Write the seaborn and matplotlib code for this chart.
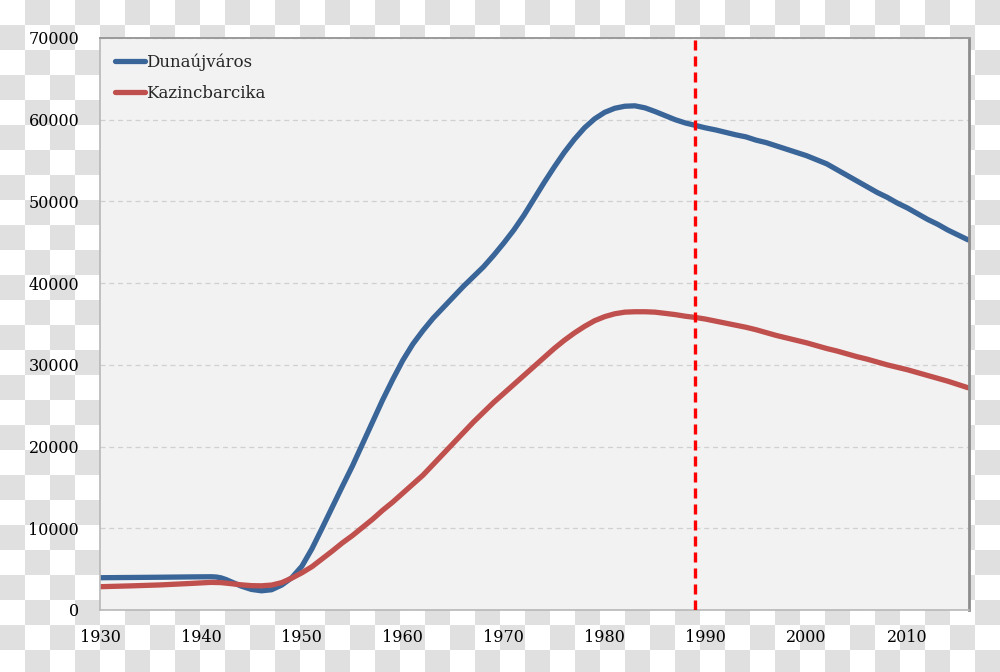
import numpy as np
import pandas as pd
import matplotlib
matplotlib.use("Agg")
import matplotlib.pyplot as plt
import seaborn as sns

# ---- data ----
years_duna = [1930, 1933, 1936, 1939, 1941, 1941.5, 1942, 1942.5, 1943, 1944, 1945, 1946, 1947, 1948, 1949,
              1950, 1951, 1952, 1953, 1954, 1955, 1956, 1957, 1958, 1959, 1960, 1961, 1962,
              1963, 1964, 1965, 1966, 1967, 1968, 1969, 1970, 1971, 1972, 1973, 1974, 1975,
              1976, 1977, 1978, 1979, 1980, 1981, 1982, 1983, 1984, 1985, 1986, 1987, 1988,
              1989, 1990, 1991, 1992, 1993, 1994, 1995, 1996, 1997, 1998, 1999, 2000, 2001,
              2002, 2003, 2004, 2005, 2006, 2007, 2008, 2009, 2010, 2011, 2012, 2013, 2014,
              2015, 2016]
pop_duna = [3950, 3980, 4010, 4050, 4070, 4040, 3930, 3720, 3450, 2920, 2520, 2350, 2480, 3050, 3950,
            5350, 7500, 10000, 12550, 15100, 17600, 20300, 23000, 25700, 28200, 30550, 32550, 34200,
            35700, 37000, 38300, 39600, 40800, 42000, 43400, 44900, 46500, 48300, 50300, 52300, 54200,
            56000, 57600, 59000, 60100, 60900, 61400, 61650, 61700, 61450, 61000, 60500, 60000, 59600,
            59300, 59000, 58750, 58450, 58150, 57900, 57500, 57200, 56800, 56400, 56000, 55600, 55100,
            54600, 53900, 53200, 52500, 51800, 51100, 50500, 49800, 49200, 48500, 47800, 47200, 46500,
            45900, 45300]

years_kazinc = [1930, 1933, 1936, 1939, 1941, 1942, 1943, 1944, 1945, 1946, 1947, 1948, 1949,
                1950, 1951, 1952, 1953, 1954, 1955, 1956, 1957, 1958, 1959, 1960, 1961, 1962,
                1963, 1964, 1965, 1966, 1967, 1968, 1969, 1970, 1971, 1972, 1973, 1974, 1975,
                1976, 1977, 1978, 1979, 1980, 1981, 1982, 1983, 1984, 1985, 1986, 1987, 1988,
                1989, 1990, 1991, 1992, 1993, 1994, 1995, 1996, 1997, 1998, 1999, 2000, 2001,
                2002, 2003, 2004, 2005, 2006, 2007, 2008, 2009, 2010, 2011, 2012, 2013, 2014,
                2015, 2016]
pop_kazinc = [2850, 2950, 3070, 3250, 3380, 3350, 3220, 3080, 2980, 2960, 3050, 3350, 3900,
              4550, 5300, 6250, 7200, 8200, 9100, 10100, 11100, 12200, 13200, 14300, 15400, 16500,
              17800, 19100, 20400, 21700, 23000, 24200, 25400, 26500, 27600, 28700, 29800, 30900, 32000,
              33000, 33900, 34700, 35400, 35900, 36250, 36450, 36500, 36500, 36450, 36300, 36150, 35950,
              35800, 35600, 35350, 35100, 34850, 34600, 34300, 33950, 33600, 33300, 33000, 32700, 32350,
              32000, 31700, 31350, 31000, 30700, 30350, 30000, 29700, 29400, 29050, 28700, 28350, 28000,
              27600, 27200]

series_names = ["Dunaújváros", "Kazincbarcika"]
marker_year = 1989
x_ticks = [1930, 1940, 1950, 1960, 1970, 1980, 1990, 2000, 2010]
y_ticks = [0, 10000, 20000, 30000, 40000, 50000, 60000, 70000]

df = pd.concat([
    pd.DataFrame({"year": years_duna, "pop": pop_duna, "city": series_names[0]}),
    pd.DataFrame({"year": years_kazinc, "pop": pop_kazinc, "city": series_names[1]}),
], ignore_index=True)

sns.set_theme(style="white")
plt.rcParams["font.family"] = ["DejaVu Serif"]

fig = plt.figure(figsize=(10, 6.72), dpi=100)

# checkerboard (transparent-background look)
bg = fig.add_axes([0, 0, 1, 1], zorder=-10)
yy, xx = np.indices((672, 1000))
board = ((yy // 25 + xx // 25) % 2).astype(float)
bg.imshow(board, cmap=matplotlib.colors.ListedColormap(["#ffffff", "#e0e0e0"]),
          aspect="auto", interpolation="nearest", extent=(0, 1000, 672, 0))
bg.set_axis_off()

ax = fig.add_axes([0.100, 1 - 610 / 672, 0.869, (610 - 38) / 672])
ax.set_facecolor("#f2f2f2")

sns.lineplot(data=df, x="year", y="pop", hue="city", ax=ax,
             palette=["#3a6598", "#c0504d"], linewidth=3.8, estimator=None,
             sort=True, legend=True)
for ln in ax.get_lines():
    ln.set_solid_capstyle("round")
    ln.set_solid_joinstyle("round")

ax.axvline(marker_year, color="#ff0000", lw=2.4, dashes=(3.0, 1.8), zorder=5)

ax.set_xlim(1930, 2016.1)
ax.set_ylim(0, 70000)
ax.set_xticks(x_ticks)
ax.set_yticks(y_ticks)
ax.set_xticklabels([str(t) for t in x_ticks])
ax.set_yticklabels([str(t) for t in y_ticks])
ax.set_xlabel("")
ax.set_ylabel("")

ax.yaxis.grid(True, color="#d0d0d0", linestyle=(0, (4, 3)), linewidth=0.9)
ax.xaxis.grid(False)
ax.set_axisbelow(True)

ax.tick_params(axis="both", which="major", labelsize=11.5, colors="#000000",
               direction="out", length=5, width=1)
ax.tick_params(axis="x", pad=9, color="#a0a0a0")
ax.tick_params(axis="y", pad=10, color="#a0a0a0")

for side in ["left", "bottom"]:
    ax.spines[side].set_color("#b8b8b8")
    ax.spines[side].set_linewidth(1.2)
ax.spines["top"].set_color("#9a9a9a")
ax.spines["top"].set_linewidth(1.4)
ax.spines["right"].set_color("#8c8c8c")
ax.spines["right"].set_linewidth(2.0)
for s in ax.spines.values():
    s.set_visible(True)

leg = ax.legend(loc="upper left", frameon=False, fontsize=12, handlelength=1.75,
                handletextpad=0.1, labelspacing=0.85, borderaxespad=0.52,
                bbox_to_anchor=(0.0, 1.0))
for h in leg.get_lines():
    h.set_linewidth(3.8)
    h.set_solid_capstyle("round")

fig.savefig("out.png", dpi=100)
